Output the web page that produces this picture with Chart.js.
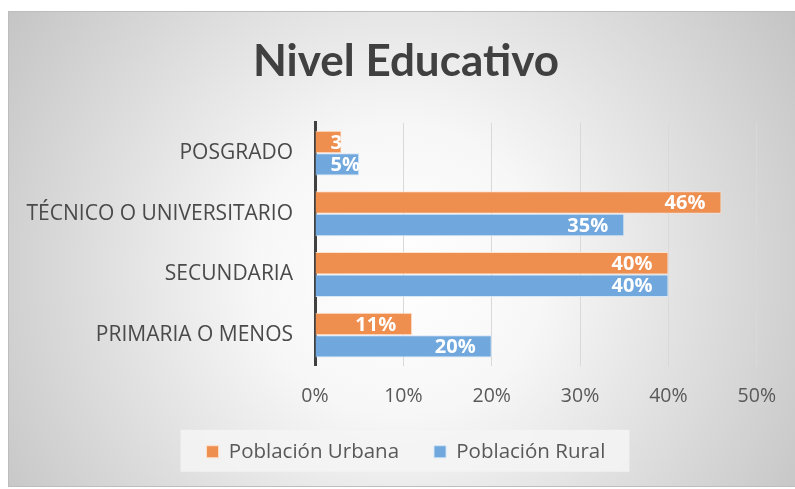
<!DOCTYPE html>
<html>
<head>
<meta charset="utf-8">
<script src="https://cdn.jsdelivr.net/npm/chart.js@4/dist/chart.umd.min.js"></script>
<style>
  html, body { margin: 0; padding: 0; background: #fff; }
  #wrap { width: 795px; height: 489px; position: relative; }
</style>
</head>
<body>
<div id="wrap"><canvas id="nivelChart"></canvas></div>
<script>
// Nivel educativo - poblacion urbana vs rural (%)
const categories = ['POSGRADO', 'TÉCNICO O UNIVERSITARIO', 'SECUNDARIA', 'PRIMARIA O MENOS'];
const urbana = [3, 46, 40, 11];
const rural = [5, 35, 40, 20];
const xTicks = [0, 10, 20, 30, 40, 50];

const FONT = '"Open Sans", Lato, sans-serif';
const TITLE_FONT = 'Lato, "Open Sans", sans-serif';
const SHIFT = 26; // title and legend are centred on the frame, not the plot
const colors = {
  urbana: 'rgb(238, 142, 79)',
  rural: 'rgb(112, 167, 220)',
  text: '#404040',
  axisText: '#595959'
};

// frame + radial background + legend box
const backgroundPlugin = {
  id: 'background',
  afterLayout(chart) {
    [chart.titleBlock, chart.legend].forEach(b => {
      if (b) { b.left += SHIFT; b.right += SHIFT; }
    });
  },
  beforeDraw(chart) {
    const ctx = chart.ctx;
    const w = chart.width, h = chart.height;
    ctx.save();
    ctx.fillStyle = '#fff';
    ctx.fillRect(0, 0, w, h);
    const g = ctx.createRadialGradient(400, 270, 0, 400, 270, 480);
    g.addColorStop(0, '#ffffff');
    g.addColorStop(0.3, '#f7f7f7');
    g.addColorStop(1, '#c3c3c3');
    ctx.fillStyle = g;
    ctx.fillRect(8, 11, w - 8, 475);
    ctx.strokeStyle = '#bdbdbd';
    ctx.lineWidth = 1;
    ctx.strokeRect(8.5, 11.5, w, 475);

    const boxes = chart.legend && chart.legend.legendHitBoxes;
    if (boxes && boxes.length) {
      const left = Math.min(...boxes.map(b => b.left)) - 26;
      const right = Math.max(...boxes.map(b => b.left + b.width)) + 24;
      const mid = boxes[0].top + boxes[0].height / 2;
      ctx.fillStyle = 'rgba(244, 244, 244, 0.85)';
      ctx.fillRect(left, mid - 22, right - left, 42);
    }
    ctx.restore();
  }
};

// white labels at the inside end of every bar, clipped to the bar
const barLabelPlugin = {
  id: 'barLabels',
  afterDatasetsDraw(chart) {
    const ctx = chart.ctx;
    ctx.save();
    ctx.font = 'bold 20px ' + FONT;
    ctx.fillStyle = '#ffffff';
    ctx.textBaseline = 'middle';
    ctx.textAlign = 'left';
    chart.data.datasets.forEach((ds, di) => {
      const meta = chart.getDatasetMeta(di);
      meta.data.forEach((bar, i) => {
        const txt = ds.data[i] + '%';
        const p = bar.getProps(['x', 'y', 'base', 'height'], true);
        const tw = ctx.measureText(txt).width;
        const tx = Math.max(p.x - 16 - tw, p.base + 15);
        ctx.save();
        ctx.beginPath();
        ctx.rect(p.base, p.y - p.height / 2, p.x - p.base, p.height);
        ctx.clip();
        ctx.fillText(txt, tx, p.y + 1);
        ctx.restore();
      });
    });
    ctx.restore();
  }
};

new Chart(document.getElementById('nivelChart'), {
  type: 'bar',
  data: {
    labels: categories,
    datasets: [
      {
        label: 'Población Urbana',
        data: urbana,
        backgroundColor: colors.urbana,
        borderColor: 'rgba(255, 225, 205, 0.9)',
        borderWidth: 1,
        categoryPercentage: 0.74,
        barPercentage: 1
      },
      {
        label: 'Población Rural',
        data: rural,
        backgroundColor: colors.rural,
        borderColor: 'rgba(210, 228, 248, 0.9)',
        borderWidth: 1,
        categoryPercentage: 0.74,
        barPercentage: 1
      }
    ]
  },
  options: {
    indexAxis: 'y',
    responsive: true,
    maintainAspectRatio: false,
    animation: false,
    layout: { padding: { left: 0, right: 35, top: 0, bottom: 17 } },
    scales: {
      x: {
        min: 0,
        max: 50,
        afterBuildTicks: scale => { scale.ticks = xTicks.map(v => ({ value: v })); },
        afterFit: scale => { scale.height = 41; },
        ticks: {
          callback: v => v + '%',
          color: colors.axisText,
          padding: 19,
          font: { family: FONT, size: 19.5 }
        },
        grid: { color: '#d9d9d9', drawTicks: false },
        border: { display: false }
      },
      y: {
        afterFit: scale => { scale.width = 315; },
        ticks: {
          color: '#4a4a4a',
          padding: 22,
          font: { family: FONT, size: 21 }
        },
        grid: { display: false, drawTicks: false },
        border: { color: '#404040', width: 3 }
      }
    },
    plugins: {
      title: {
        display: true,
        text: 'Nivel Educativo',
        color: colors.text,
        font: { family: TITLE_FONT, size: 44, weight: 'bold' },
        padding: { top: 35, bottom: 35 }
      },
      legend: {
        position: 'bottom',
        labels: {
          color: colors.axisText,
          font: { family: FONT, size: 20.5 },
          boxWidth: 12,
          boxHeight: 12,
          padding: 35
        }
      },
      tooltip: { enabled: false }
    }
  },
  plugins: [backgroundPlugin, barLabelPlugin]
});
</script>
</body>
</html>
